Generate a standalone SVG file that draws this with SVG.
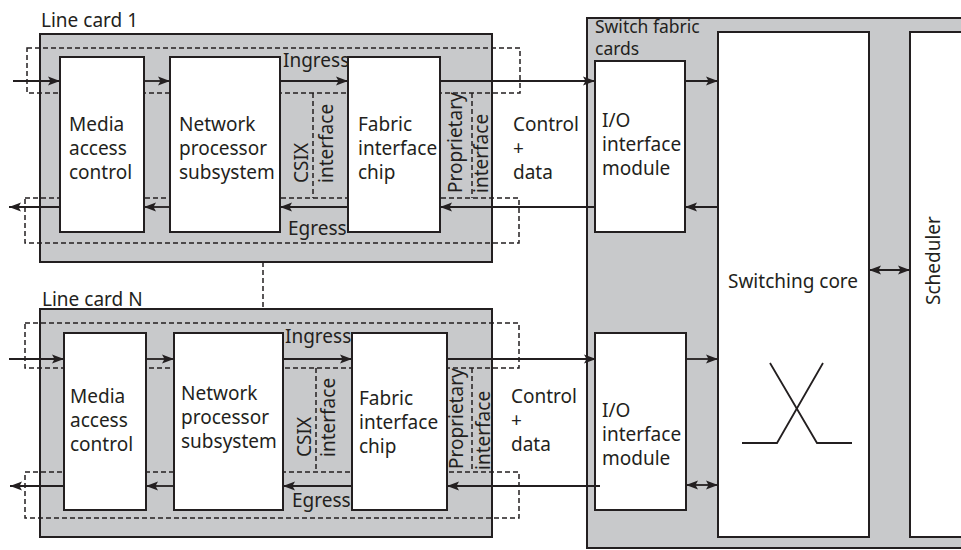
<svg xmlns="http://www.w3.org/2000/svg" width="961" height="550" viewBox="0 0 961 550">
<defs>
<marker id="ah" markerUnits="userSpaceOnUse" markerWidth="12" markerHeight="10" refX="12" refY="5" orient="auto-start-reverse" viewBox="0 0 12 10">
<path d="M0,0.5 L12,5 L0,9.5 L2.5,5 z" fill="#231f20"/>
</marker>
<style>
.card{fill:#c8c9cb;stroke:#231f20;stroke-width:2}
.box{fill:#ffffff;stroke:#231f20;stroke-width:2}
.dash{fill:none;stroke:#231f20;stroke-width:1.5;stroke-dasharray:5,3}
.con{fill:none;stroke:#231f20;stroke-width:1.8}
.arr{marker-end:url(#ah)}
.dbl{marker-start:url(#ah);marker-end:url(#ah)}
text{font-family:"Noto Sans","Open Sans","Liberation Sans",sans-serif;font-size:19px;fill:#231f20}
.sm{font-size:17.5px}
</style>
</defs>
<rect width="961" height="550" fill="#ffffff"/>

<g id="switch-fabric">
<rect class="card" x="587" y="18" width="390" height="530"/>
<text class="sm" x="595" y="33">Switch fabric<tspan x="595" y="55">cards</tspan></text>
</g>

<g id="line-card-1">
<rect class="card" x="40" y="34" width="452" height="228"/>
<text x="41" y="27">Line card 1</text>
<rect class="dash" x="27" y="48" width="493" height="45"/>
<rect class="dash" x="25" y="198" width="494" height="45"/>
<line class="dash" x1="313" y1="93" x2="313" y2="198"/>
<line class="dash" x1="472" y1="93" x2="472" y2="198"/>
<text x="283" y="67">Ingress</text>
<text x="288" y="235">Egress</text>
<text transform="translate(308,183) rotate(-90)">CSIX<tspan x="0" y="25">interface</tspan></text>
<text transform="translate(462,193) rotate(-90)">Proprietary<tspan x="0" y="26">interface</tspan></text>
</g>
<g id="mac-1">
<rect class="box" x="60" y="57" width="84" height="175"/>
<text x="69" y="131">Media<tspan x="69" y="155">access</tspan><tspan x="69" y="179">control</tspan></text>
</g>
<g id="np-1">
<rect class="box" x="170" y="57" width="110" height="175"/>
<text x="179" y="131">Network<tspan x="179" y="155">processor</tspan><tspan x="179" y="179">subsystem</tspan></text>
</g>
<g id="fic-1">
<rect class="box" x="348" y="57" width="92" height="175"/>
<text x="358" y="131">Fabric<tspan x="358" y="155">interface</tspan><tspan x="358" y="179">chip</tspan></text>
</g>
<g id="label-cd-1">
<text x="513" y="131">Control<tspan x="513" y="155">+</tspan><tspan x="513" y="179">data</tspan></text>
</g>

<g id="line-card-n">
<rect class="card" x="40" y="309" width="452" height="228"/>
<text x="42" y="306">Line card N</text>
<rect class="dash" x="25" y="323" width="494" height="45"/>
<rect class="dash" x="25" y="472" width="494" height="46"/>
<line class="dash" x1="316" y1="368" x2="316" y2="472"/>
<line class="dash" x1="472" y1="368" x2="472" y2="472"/>
<text x="285" y="343">Ingress</text>
<text x="292" y="507">Egress</text>
<text transform="translate(311,457) rotate(-90)">CSIX<tspan x="0" y="24">interface</tspan></text>
<text transform="translate(463,469) rotate(-90)">Proprietary<tspan x="-1" y="27">interface</tspan></text>
</g>
<g id="mac-n">
<rect class="box" x="64" y="333" width="82" height="177"/>
<text x="70" y="403">Media<tspan x="70" y="427">access</tspan><tspan x="70" y="451">control</tspan></text>
</g>
<g id="np-n">
<rect class="box" x="174" y="333" width="109" height="177"/>
<text x="181" y="400">Network<tspan x="181" y="424">processor</tspan><tspan x="181" y="448">subsystem</tspan></text>
</g>
<g id="fic-n">
<rect class="box" x="352" y="333" width="95" height="177"/>
<text x="359" y="405">Fabric<tspan x="359" y="429">interface</tspan><tspan x="359" y="453">chip</tspan></text>
</g>
<g id="label-cd-n">
<text x="511" y="403">Control<tspan x="511" y="427">+</tspan><tspan x="511" y="451">data</tspan></text>
</g>

<g id="io-1">
<rect class="box" x="595" y="61" width="90" height="171"/>
<text x="602" y="127">I/O<tspan x="602" y="151">interface</tspan><tspan x="602" y="175">module</tspan></text>
</g>
<g id="io-n">
<rect class="box" x="595" y="333" width="91" height="177"/>
<text x="602" y="417">I/O<tspan x="602" y="441">interface</tspan><tspan x="602" y="465">module</tspan></text>
</g>
<g id="switching-core">
<rect class="box" x="718" y="32" width="151" height="505"/>
<text x="728" y="288">Switching core</text>
<polyline class="con" points="770,363 817,443 852,443"/>
<polyline class="con" points="823,363 777,443 742,443"/>
</g>
<g id="scheduler">
<rect class="box" x="910" y="32" width="70" height="505"/>
<text transform="translate(940,305) rotate(-90)">Scheduler</text>
</g>

<g id="connectors">
<line class="dash" x1="263" y1="262" x2="263" y2="309"/>
<line class="con arr" x1="13" y1="81" x2="60" y2="81"/>
<line class="con arr" x1="144" y1="81" x2="170" y2="81"/>
<line class="con arr" x1="280" y1="81" x2="348" y2="81"/>
<line class="con arr" x1="440" y1="81" x2="595" y2="81"/>
<line class="con arr" x1="595" y1="207" x2="440" y2="207"/>
<line class="con arr" x1="348" y1="207" x2="280" y2="207"/>
<line class="con arr" x1="170" y1="207" x2="144" y2="207"/>
<line class="con arr" x1="60" y1="207" x2="9" y2="207"/>
<line class="con arr" x1="9" y1="359" x2="64" y2="359"/>
<line class="con arr" x1="146" y1="359" x2="174" y2="359"/>
<line class="con arr" x1="283" y1="359" x2="352" y2="359"/>
<line class="con arr" x1="447" y1="359" x2="596" y2="359"/>
<line class="con arr" x1="600" y1="486" x2="447" y2="486"/>
<line class="con arr" x1="352" y1="486" x2="283" y2="486"/>
<line class="con arr" x1="174" y1="486" x2="146" y2="486"/>
<line class="con arr" x1="64" y1="486" x2="10" y2="486"/>
<line class="con arr" x1="685" y1="81" x2="718" y2="81"/>
<line class="con arr" x1="718" y1="207" x2="685" y2="207"/>
<line class="con arr" x1="686" y1="359" x2="718" y2="359"/>
<line class="con dbl" x1="686" y1="485" x2="718" y2="485"/>
<line class="con dbl" x1="869" y1="270" x2="910" y2="270"/>
</g>
</svg>
